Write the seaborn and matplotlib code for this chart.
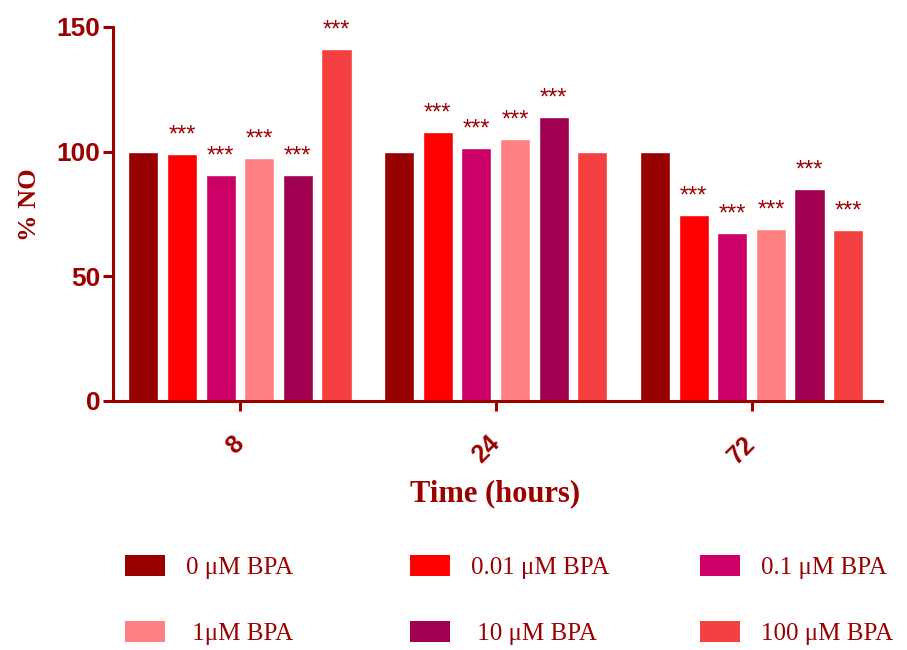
import matplotlib
matplotlib.use('Agg')
import matplotlib.pyplot as plt
import matplotlib.patches as mpatches
import seaborn as sns
import pandas as pd

# 数据
times = ['8', '24', '72']
doses = ['0 μM BPA', '0.01 μM BPA', '0.1 μM BPA', ' 1μM BPA', ' 10 μM BPA', '100 μM BPA']
no_0 = [100, 100, 100]
no_001 = [99, 108, 74.5]
no_01 = [90.5, 101.5, 67.5]
no_1 = [97.5, 105, 69]
no_10 = [90.5, 114, 85]
no_100 = [141, 100, 68.5]
# 显著性标记 (1 = ***)
sig_0 = [0, 0, 0]
sig_001 = [1, 1, 1]
sig_01 = [1, 1, 1]
sig_1 = [1, 1, 1]
sig_10 = [1, 1, 1]
sig_100 = [1, 0, 1]

colors = ['#990000', '#FF0000', '#CC0066', '#FF8080', '#A00050', '#F44040']
dark = '#9B0000'

series = [no_0, no_001, no_01, no_1, no_10, no_100]
sigs = [sig_0, sig_001, sig_01, sig_1, sig_10, sig_100]
rows = []
for d, vals in zip(doses, series):
    for t, v in zip(times, vals):
        rows.append({'time': t, 'dose': d, 'no': v})
df = pd.DataFrame(rows)

sns.set_style('ticks')
fig = plt.figure(figsize=(9.07, 6.5), dpi=100)
ax = fig.add_axes([113 / 907, 1 - 401 / 650, (882 - 113) / 907, (401 - 27) / 650])

sns.barplot(data=df, x='time', y='no', hue='dose', order=times, hue_order=doses,
            palette=colors, saturation=1, width=0.906, gap=0.22, errorbar=None,
            legend=False, ax=ax)

# 星号
for cont, sg in zip(ax.containers, sigs):
    for bar, s in zip(cont, sg):
        if s:
            ax.annotate('***', (bar.get_x() + bar.get_width() / 2, bar.get_height()),
                        xytext=(0, 9), textcoords='offset points', ha='center',
                        va='baseline', color=dark, fontsize=17, family='Liberation Sans')

ax.set_xlim(-0.496, 2.51)
ax.set_ylim(0, 150)
ax.set_yticks([0, 50, 100, 150])
sns.despine(ax=ax)
for sp in ['left', 'bottom']:
    ax.spines[sp].set_color(dark)
    ax.spines[sp].set_linewidth(2.2)
ax.tick_params(axis='both', colors=dark, width=2.2, length=7)
ax.tick_params(axis='y', pad=2)
ax.tick_params(axis='x', pad=21)
for lab in ax.get_yticklabels():
    lab.set_fontfamily('Liberation Sans')
    lab.set_fontweight('bold')
    lab.set_fontsize(19)
for lab in ax.get_xticklabels():
    lab.set_fontfamily('Liberation Sans')
    lab.set_fontweight('bold')
    lab.set_fontsize(18)
    lab.set_rotation(45)
    lab.set_ha('right')
    lab.set_va('center')
    lab.set_rotation_mode('anchor')

ax.set_ylabel('% NO', family='Liberation Serif', fontweight='bold', fontsize=19, color=dark)
ax.yaxis.set_label_coords(-0.094, 0.524)
ax.set_xlabel('Time (hours)', family='Liberation Serif', fontweight='bold', fontsize=22, color=dark)
ax.xaxis.set_label_coords(0.497, -0.21)

# 图例 (三列)
handles = [mpatches.Patch(facecolor=c, edgecolor='none') for c in colors]
col_x = [125, 410, 700]
for k in range(3):
    leg = fig.legend([handles[k], handles[k + 3]], [doses[k], doses[k + 3]],
                     loc='center left', bbox_to_anchor=(col_x[k] / 907, 1 - 600 / 650),
                     frameon=False, borderpad=0, borderaxespad=0,
                     handlelength=1.6, handleheight=0.9, handletextpad=0.85,
                     labelspacing=1.68, labelcolor=dark,
                     prop={'family': 'Liberation Serif', 'size': 18})

fig.savefig('out.png', dpi=100)
